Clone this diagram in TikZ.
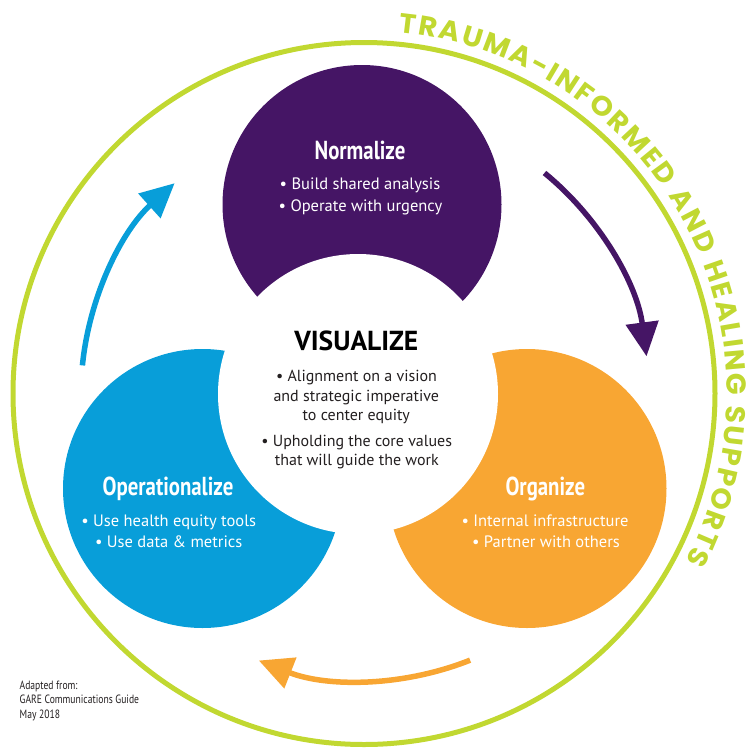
\documentclass[tikz,border=0pt]{standalone}
\usepackage{fontspec}
\usetikzlibrary{arrows.meta,decorations.text}
\setmainfont{PT Sans}
\newfontfamily\condfam[FakeStretch=0.8]{PT Sans}
\newfontfamily\arcfam[FakeStretch=1.04]{Poppins}
\definecolor{cpurple}{HTML}{451565}
\definecolor{cblue}{HTML}{089ED9}
\definecolor{corange}{HTML}{F8A633}
\definecolor{cgreen}{HTML}{C1D831}
\definecolor{cdark}{HTML}{231F20}
\begin{document}
\begin{tikzpicture}[x=1pt,y=1pt,
  blob/.style={circle, inner sep=0pt, minimum size=279pt},
  ttl/.style={anchor=base, text=white, font=\condfam\bfseries\fontsize{26}{26}\selectfont, inner sep=0pt},
  itm/.style={anchor=base, font=\fontsize{16}{16}\selectfont, inner sep=0pt},
  witm/.style={itm, text=white, font=\fontsize{16.5}{16.5}\selectfont},
  ditm/.style={itm, text=cdark},
  cyc/.style={line width=5.5pt, -{Triangle[length=34pt,width=32pt]}},
  note/.style={anchor=base west, font=\condfam\fontsize{12}{12}\selectfont, text=cdark, inner sep=0pt}]
\path[use as bounding box] (0,0) rectangle (746,-748);
\coordinate (c) at (364,-393.5);
\draw[cgreen, line width=5pt] (c) circle[radius=351pt];
\path[decorate, decoration={text along path, text align={fit to path}, text color=cgreen,
  text={|\arcfam\bfseries\fontsize{27.5}{27.5}\selectfont|TRAUMA-INFORMED AND HEALING SUPPORTS}}]
  ([shift={(84.5:363pt)}]c) arc[start angle=84.5, end angle=-27.5, radius=363pt];
% cycle arrows
\draw[cyc, cpurple] ([shift={(50.7:285pt)}]c) arc[start angle=50.7, end angle=7.5, radius=285pt];
\draw[cyc, corange] ([shift={(-68.3:287pt)}]c) arc[start angle=-68.3, end angle=-111.5, radius=287pt];
\draw[cyc, cblue] ([shift={(174.3:283pt)}]c) arc[start angle=174.3, end angle=132, radius=283pt];
% circles
\node[blob, fill=cpurple] (norm) at (362,-204.5) {};
\node[blob, fill=cblue] (oper) at (202.5,-488.5) {};
\node[blob, fill=corange] (org) at (527,-488.5) {};
\node[circle, inner sep=0pt, minimum size=280pt, fill=white] (vis) at (358,-394) {};
% Normalize
\node[ttl] (t1) at (360,-159) {Normalize};
\node[witm] (t1a) at (360,-189) {• Build shared analysis};
\node[witm] (t1b) at (360.5,-211.7) {• Operate with urgency};
% Visualize
\node[anchor=base, inner sep=0pt, text=black, font=\bfseries\fontsize{27.5}{27.5}\selectfont] (t0) at (356.3,-350.7) {VISUALIZE};
\node[ditm] (t0a) at (356.5,-381.7) {• Alignment on a vision};
\node[ditm] (t0b) at (356.3,-401) {and strategic imperative};
\node[ditm] (t0c) at (356.3,-420) {to center equity};
\node[ditm] (t0d) at (356.7,-446.7) {• Upholding the core values};
\node[ditm] (t0e) at (356.8,-465) {that will guide the work};
% Operationalize
\node[ttl] (t2) at (168,-495.7) {Operationalize};
\node[witm] (t2a) at (168.7,-526) {• Use health equity tools};
\node[witm] (t2b) at (168.7,-547.3) {• Use data \& metrics};
% Organize
\node[ttl] (t3) at (545.3,-495.7) {Organize};
\node[witm] (t3a) at (545,-526) {• Internal infrastructure};
\node[witm] (t3b) at (546,-547.3) {• Partner with others};
% footnote
\node[note] (n1) at (19.5,-689) {Adapted from:};
\node[note] (n2) at (19.5,-703.5) {GARE Communications Guide};
\node[note] (n3) at (19.5,-718) {May 2018};
\end{tikzpicture}
\end{document}
